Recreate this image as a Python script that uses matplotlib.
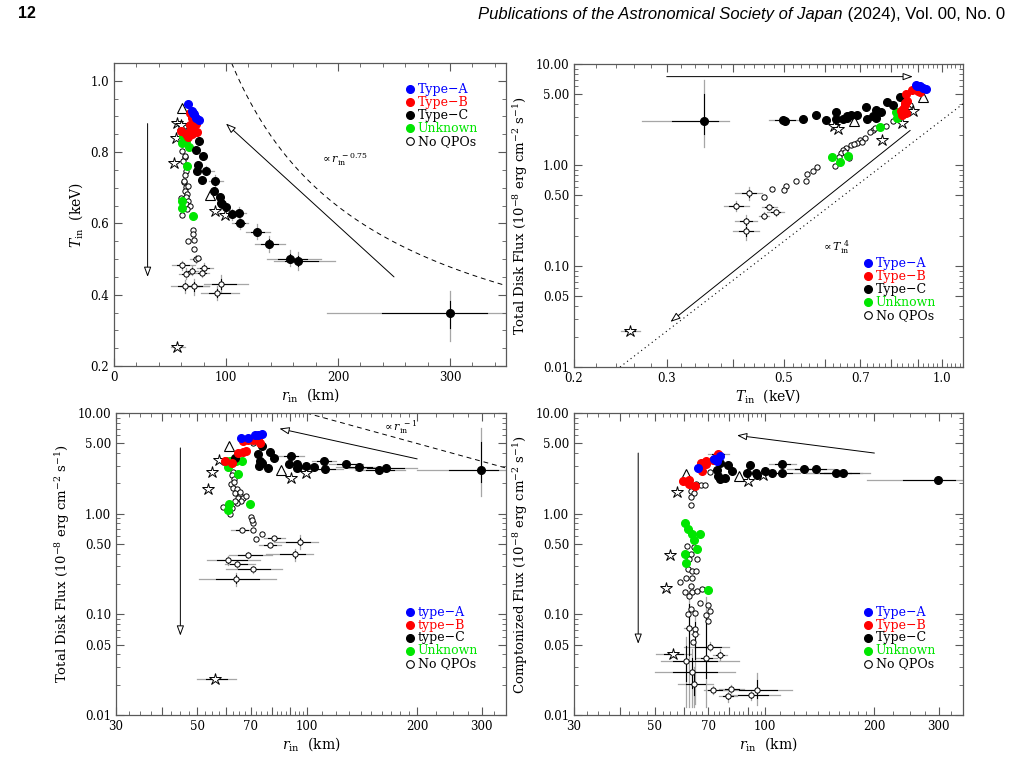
import numpy as np
import matplotlib
matplotlib.use('Agg')
from matplotlib import pyplot as plt
from matplotlib.ticker import FixedLocator, FixedFormatter, NullFormatter

plt.rcParams['font.family'] = 'DejaVu Serif'
plt.rcParams['mathtext.fontset'] = 'dejavuserif'

# ---------------- data: top-left (r_in [km], T_in [keV]) ----------------
tl_typeA = [(65.9, 0.935), (69.2, 0.914), (71.6, 0.907), (73.6, 0.897), (76.0, 0.891), (70.5, 0.910)]
tl_typeB = [(67.7, 0.910), (69.8, 0.897), (73.6, 0.879), (60.2, 0.858), (69.2, 0.851), (74.2, 0.856),
            (66.2, 0.843), (68.3, 0.860), (64.7, 0.851), (70.5, 0.866), (67.5, 0.875)]
tl_typeC = [(76.0, 0.832), (73.6, 0.806), (79.6, 0.788), (74.6, 0.765), (74.2, 0.748), (81.7, 0.748),
            (78.7, 0.722), (90.6, 0.718), (89.4, 0.691), (94.5, 0.674), (95.1, 0.657), (99.6, 0.646),
            (96.6, 0.655), (105.0, 0.627), (111.5, 0.630), (112.4, 0.601), (127.9, 0.576),
            (138.6, 0.543), (157.1, 0.501), (164.6, 0.495), (299.6, 0.350)]
tl_unknown = [(61.7, 0.846), (64.1, 0.830), (61.1, 0.825), (67.1, 0.815), (65.0, 0.761), (61.1, 0.663),
              (61.1, 0.642), (70.1, 0.621), (63.5, 0.838)]
tl_noqpo = [(62.3, 0.870), (63.2, 0.860), (70.8, 0.873), (61.1, 0.804), (63.5, 0.786), (64.1, 0.748),
            (63.2, 0.737), (62.3, 0.716), (64.7, 0.702), (63.2, 0.692), (65.6, 0.683), (64.1, 0.674),
            (66.2, 0.664), (64.7, 0.655), (67.7, 0.650), (61.1, 0.625), (70.1, 0.581), (70.1, 0.571),
            (66.2, 0.550), (71.3, 0.553), (71.6, 0.529), (72.8, 0.501), (75.1, 0.504), (61.1, 0.483),
            (64.1, 0.459), (69.2, 0.467), (80.2, 0.475), (79.0, 0.461), (63.8, 0.424), (71.3, 0.424),
            (95.7, 0.429), (92.4, 0.404), (62.0, 0.775), (63.0, 0.790), (60.0, 0.670), (62.5, 0.720),
            (66.0, 0.705), (65.0, 0.640)]
tl_stars = [(56.6, 0.881), (60.2, 0.876), (55.2, 0.840), (53.7, 0.769), (90.0, 0.635), (99.0, 0.623),
            (56.4, 0.254)]
tl_tri = [(60.8, 0.924), (85.6, 0.681)]
# (x, y, x_lo, x_hi, y_lo, y_hi)
tl_errs = [(127.9, 0.576, 118, 139, 0.555, 0.597), (138.6, 0.543, 126, 153, 0.520, 0.565),
           (157.1, 0.501, 137, 185, 0.480, 0.525), (164.6, 0.495, 143, 197, 0.470, 0.520),
           (299.6, 0.350, 190, 360, 0.270, 0.410), (112.4, 0.601, 105, 120, 0.585, 0.620),
           (111.5, 0.630, 103, 118, 0.615, 0.645), (105.0, 0.627, 98, 112, 0.610, 0.640),
           (90.6, 0.718, 85, 97, 0.700, 0.735), (81.7, 0.748, 76, 89, 0.735, 0.760),
           (61.1, 0.483, 52, 72, 0.470, 0.495), (63.8, 0.424, 51, 85, 0.405, 0.440),
           (71.3, 0.424, 60, 85, 0.400, 0.445), (95.7, 0.429, 80, 120, 0.405, 0.455),
           (92.4, 0.404, 78, 112, 0.385, 0.425), (80.2, 0.475, 74, 88, 0.460, 0.490),
           (79.0, 0.461, 72, 85, 0.450, 0.475), (64.1, 0.459, 58, 70, 0.445, 0.475),
           (69.2, 0.467, 63, 75, 0.455, 0.480), (72.8, 0.501, 68, 78, 0.490, 0.510),
           (56.4, 0.254, 51, 63, 0.250, 0.258)]

# ---------------- data: top-right (T_in [keV], disk flux) ----------------
tr_typeA = [(0.891, 6.14), (0.907, 6.00), (0.920, 5.78), (0.934, 5.65), (0.898, 6.05)]
tr_typeB = [(0.878, 5.48), (0.900, 5.36), (0.855, 5.08), (0.907, 5.24), (0.849, 4.10), (0.843, 3.57),
            (0.837, 3.39), (0.853, 3.27), (0.841, 3.12), (0.852, 3.90), (0.858, 4.30)]
tr_typeC = [(0.353, 2.70), (0.498, 2.81), (0.503, 2.70), (0.545, 2.86), (0.577, 3.12), (0.601, 2.81),
            (0.630, 3.31), (0.630, 2.86), (0.649, 2.86), (0.659, 3.03), (0.673, 3.14), (0.690, 3.12),
            (0.718, 3.74), (0.721, 2.83), (0.748, 3.52), (0.750, 2.91), (0.765, 3.31), (0.787, 4.17),
            (0.807, 3.94), (0.831, 4.71), (0.740, 3.05), (0.660, 2.95)]
tr_unknown = [(0.619, 1.21), (0.641, 1.07), (0.663, 1.23), (0.762, 2.40), (0.819, 3.31), (0.837, 3.31),
              (0.822, 2.91), (0.843, 3.39), (0.828, 3.20)]
tr_noqpo = [(0.868, 3.94), (0.862, 3.65), (0.807, 2.70), (0.782, 2.45), (0.740, 2.23), (0.729, 2.10),
            (0.713, 1.85), (0.698, 1.75), (0.688, 1.64), (0.673, 1.56), (0.658, 1.47), (0.649, 1.41),
            (0.644, 1.31), (0.653, 1.36), (0.626, 0.987), (0.665, 1.17), (0.579, 0.95), (0.570, 0.88),
            (0.554, 0.82), (0.529, 0.69), (0.551, 0.69), (0.505, 0.62), (0.500, 0.567), (0.476, 0.575),
            (0.460, 0.486), (0.430, 0.525), (0.406, 0.396), (0.469, 0.387), (0.483, 0.340),
            (0.459, 0.315), (0.425, 0.279), (0.424, 0.222), (0.705, 1.70), (0.680, 1.60),
            (0.745, 2.30), (0.636, 1.20)]
tr_stars = [(0.881, 3.44), (0.841, 2.60), (0.769, 1.75), (0.624, 2.44), (0.635, 2.26), (0.255, 0.0226)]
tr_tri = [(0.920, 4.67), (0.680, 2.74)]
tr_errs = [(0.353, 2.70, 0.269, 0.394, 1.5, 7.0), (0.498, 2.81, 0.470, 0.550, 2.60, 3.00),
           (0.430, 0.525, 0.405, 0.455, 0.45, 0.61), (0.406, 0.396, 0.385, 0.430, 0.35, 0.44),
           (0.425, 0.279, 0.405, 0.445, 0.24, 0.32), (0.424, 0.222, 0.400, 0.450, 0.18, 0.26),
           (0.483, 0.340, 0.465, 0.500, 0.31, 0.37), (0.469, 0.387, 0.455, 0.485, 0.36, 0.41),
           (0.459, 0.315, 0.450, 0.470, 0.29, 0.34), (0.255, 0.0226, 0.246, 0.267, 0.021, 0.024)]

# ---------------- data: bottom-left (r_in [km], disk flux) ----------------
bl_typeA = [(65.8, 5.66), (68.8, 5.66), (72.0, 6.10), (75.1, 6.19), (73.6, 6.00)]
bl_typeB = [(66.6, 5.24), (69.0, 5.36), (71.2, 5.40), (73.6, 5.36), (74.4, 5.05), (64.8, 4.02),
            (66.8, 4.07), (68.2, 4.17), (59.5, 3.32), (62.2, 3.20)]
bl_typeC = [(75.4, 4.75), (73.6, 3.93), (79.0, 4.11), (81.1, 3.56), (74.4, 3.32), (75.1, 3.20),
            (74.0, 2.96), (78.3, 2.85), (90.5, 3.72), (89.2, 3.12), (93.8, 3.12), (99.5, 2.96),
            (94.5, 2.90), (93.8, 2.81), (104.5, 2.90), (111.3, 3.32), (111.6, 2.79), (128.0, 3.08),
            (138.5, 2.88), (157.4, 2.70), (164.2, 2.81), (299.0, 2.70), (63.5, 3.60)]
bl_unknown = [(59.8, 3.32), (61.5, 3.32), (63.9, 3.32), (66.4, 3.32), (60.8, 2.90), (64.8, 2.45),
              (61.3, 1.24), (60.6, 1.08), (69.8, 1.24)]
bl_noqpo = [(62.6, 2.62), (62.3, 2.40), (63.0, 2.19), (62.0, 1.95), (62.6, 1.81), (64.1, 1.74),
            (63.5, 1.62), (65.4, 1.55), (64.8, 1.44), (66.8, 1.44), (66.0, 1.33), (64.1, 1.28),
            (68.2, 1.50), (58.8, 1.17), (62.4, 1.13), (61.7, 1.00), (70.0, 0.933), (71.2, 0.815),
            (66.2, 0.684), (71.3, 0.684), (75.1, 0.624), (81.0, 0.570), (72.3, 0.557), (79.3, 0.486),
            (95.5, 0.528), (69.0, 0.390), (92.4, 0.395), (60.9, 0.345), (64.3, 0.315), (70.9, 0.281),
            (63.7, 0.224), (71.0, 5.00), (64.0, 3.75), (63.0, 2.05), (65.5, 1.65), (63.5, 1.35),
            (70.5, 0.870)]
bl_stars = [(57.5, 3.40), (55.0, 2.61), (53.6, 1.74), (90.2, 2.25), (99.2, 2.55), (56.1, 0.0229)]
bl_tri = [(61.0, 4.68), (85.0, 2.70)]
bl_errs = [(299.0, 2.70, 200, 360, 1.5, 7.1), (164.2, 2.81, 130, 200, 2.65, 2.95),
           (157.4, 2.70, 135, 185, 2.55, 2.85), (138.5, 2.88, 120, 160, 2.75, 3.00),
           (128.0, 3.08, 115, 142, 2.95, 3.20), (111.3, 3.32, 103, 120, 3.15, 3.50),
           (111.6, 2.79, 100, 125, 2.65, 2.95), (90.5, 3.72, 83, 98, 3.55, 3.90),
           (60.9, 0.345, 53.3, 74.4, 0.31, 0.38), (63.7, 0.224, 50.6, 82.4, 0.19, 0.26),
           (92.4, 0.395, 77.2, 104, 0.34, 0.45), (95.5, 0.528, 81, 107, 0.45, 0.62),
           (70.9, 0.281, 59.9, 85.6, 0.26, 0.30), (64.3, 0.315, 59.5, 72, 0.29, 0.34),
           (69.0, 0.390, 61, 80, 0.36, 0.42), (81.0, 0.570, 76, 87, 0.55, 0.59),
           (79.3, 0.486, 74, 85, 0.47, 0.50), (66.2, 0.684, 62, 71, 0.66, 0.71),
           (56.1, 0.0229, 50.1, 63.7, 0.0220, 0.0238)]

# ---------------- data: bottom-right (r_in [km], comptonized flux) ----------------
br_typeA = [(72.8, 3.53), (75.2, 3.72), (73.8, 3.37), (65.8, 2.81)]
br_typeB = [(74.3, 3.95), (73.8, 3.72), (72.2, 3.45), (69.2, 3.32), (67.0, 3.20), (68.9, 3.08),
            (66.2, 2.85), (67.4, 2.65), (59.6, 2.11), (62.2, 2.18), (62.2, 1.95), (64.4, 1.88)]
br_typeC = [(75.2, 3.20), (79.2, 3.03), (81.4, 2.65), (73.8, 2.69), (74.3, 2.36), (75.2, 2.22),
            (78.0, 2.27), (90.9, 3.03), (89.3, 2.55), (94.6, 2.55), (95.0, 2.41), (100.0, 2.65),
            (104.5, 2.55), (111.4, 3.12), (111.8, 2.51), (128.0, 2.75), (138.0, 2.75), (157.0, 2.55),
            (164.0, 2.55), (299.0, 2.14)]
br_unknown = [(60.6, 0.802), (61.5, 0.700), (63.4, 0.624), (66.6, 0.624), (64.1, 0.545), (65.1, 0.443),
              (60.6, 0.402), (60.8, 0.322), (70.0, 0.174)]
br_noqpo = [(64.9, 1.95), (66.9, 1.91), (68.6, 1.93), (63.0, 1.68), (63.9, 1.61), (62.8, 1.47),
            (63.0, 1.21), (71.0, 2.59), (61.4, 0.479), (64.1, 0.468), (63.0, 0.396), (65.3, 0.358),
            (62.2, 0.354), (61.5, 0.281), (63.4, 0.268), (64.9, 0.268), (60.9, 0.228), (63.4, 0.228),
            (58.6, 0.210), (63.0, 0.192), (60.6, 0.168), (63.4, 0.165), (65.3, 0.172), (67.2, 0.178),
            (62.0, 0.153), (66.4, 0.131), (63.0, 0.113), (64.6, 0.104), (61.5, 0.101), (70.1, 0.123),
            (71.0, 0.107), (69.2, 0.098), (70.0, 0.0865), (62.0, 0.0726), (64.6, 0.0717),
            (64.6, 0.0638), (63.6, 0.0537), (71.0, 0.0479), (75.2, 0.0395), (61.0, 0.034),
            (69.0, 0.0367), (63.4, 0.0267), (64.0, 0.0204), (72.2, 0.0178), (81.0, 0.0182),
            (91.9, 0.0157), (95.0, 0.0178), (79.2, 0.0153)]
br_stars = [(57.6, 1.65), (55.0, 0.390), (53.6, 0.181), (56.0, 0.0404), (90.2, 2.09), (99.2, 2.40)]
br_tri = [(61.0, 2.45), (85.0, 2.36)]
br_errs = [(299.0, 2.14, 191, 360, 2.05, 2.23), (164.0, 2.55, 130, 195, 2.45, 2.65),
           (157.0, 2.55, 130, 185, 2.45, 2.65), (138.0, 2.75, 120, 155, 2.65, 2.85),
           (128.0, 2.75, 115, 140, 2.65, 2.85), (111.4, 3.12, 103, 122, 3.00, 3.25),
           (111.8, 2.51, 95, 125, 2.40, 2.60), (74.3, 3.95, 70, 80, 3.80, 4.10),
           (61.0, 0.034, 52.1, 85, 0.012, 0.06), (63.4, 0.0267, 50, 83, 0.012, 0.045),
           (75.2, 0.0395, 72, 79, 0.035, 0.045), (71.0, 0.0479, 60, 80, 0.043, 0.053),
           (64.0, 0.0204, 58, 72, 0.012, 0.030), (72.2, 0.0178, 68, 80, 0.016, 0.0195),
           (91.9, 0.0157, 78, 110, 0.014, 0.0175), (95.0, 0.0178, 77, 119, 0.0125, 0.026),
           (81.0, 0.0182, 75, 88, 0.0165, 0.020), (79.2, 0.0153, 75, 84, 0.0135, 0.017),
           (69.0, 0.0367, 65, 74, 0.012, 0.15), (64.6, 0.0638, 63, 66, 0.013, 0.10),
           (62.0, 0.0726, 60, 64, 0.012, 0.17), (56.0, 0.0404, 50.3, 62.8, 0.038, 0.043)]

legend_upper = ['Type\u2212A', 'Type\u2212B', 'Type\u2212C', 'Unknown', 'No QPOs']
legend_lower = ['type\u2212A', 'type\u2212B', 'type\u2212C', 'Unknown', 'No QPOs']

BLUE, RED, GREEN = '#0000ff', '#ff0000', '#00e600'


def xy(pts):
    return [p[0] for p in pts], [p[1] for p in pts]


def draw_errs(ax, errs):
    for x, y, xlo, xhi, ylo, yhi in errs:
        ax.plot([xlo, xhi], [y, y], color='0.65', lw=0.9, zorder=1)
        ax.plot([x, x], [ylo, yhi], color='0.65', lw=0.9, zorder=1)
        ax.plot([x - 0.55 * (x - xlo), x + 0.55 * (xhi - x)], [y, y], color='k', lw=0.8, zorder=1.5)
        ax.plot([x, x], [y - 0.55 * (y - ylo), y + 0.55 * (yhi - y)], color='k', lw=0.8, zorder=1.5)


def draw_panel(ax, a, b, c, unk, noq, stars, tri, errs):
    draw_errs(ax, errs)
    ax.plot(*xy(noq), ls='none', marker='o', ms=3.8, mfc='white', mec='k', mew=0.7, zorder=3)
    ax.plot(*xy(stars), ls='none', marker='*', ms=9, mfc='white', mec='k', mew=0.7, zorder=3)
    ax.plot(*xy(tri), ls='none', marker='^', ms=7, mfc='white', mec='k', mew=0.8, zorder=3)
    ax.plot(*xy(unk), ls='none', marker='o', ms=5.5, color=GREEN, zorder=4)
    ax.plot(*xy(c), ls='none', marker='o', ms=5.5, color='k', zorder=4)
    ax.plot(*xy(b), ls='none', marker='o', ms=5.5, color=RED, zorder=5)
    ax.plot(*xy(a), ls='none', marker='o', ms=5.5, color=BLUE, zorder=6)


def draw_legend(ax, labels, x0, y0, dy=0.043):
    colors = [BLUE, RED, 'k', GREEN, 'k']
    for i, (lab, col) in enumerate(zip(labels, colors)):
        y = y0 - i * dy
        if i < 4:
            ax.plot([x0], [y], marker='o', ms=5.5, color=col, transform=ax.transAxes, clip_on=False)
        else:
            ax.plot([x0], [y], marker='o', ms=5.5, mfc='white', mec='k', mew=0.8,
                    transform=ax.transAxes, clip_on=False)
        ax.text(x0 + 0.02, y, lab, color=col, fontsize=9, va='center', ha='left', transform=ax.transAxes)


def arrow(ax, tail, head):
    ax.annotate('', xy=head, xytext=tail,
                arrowprops=dict(arrowstyle='-|>,head_length=0.6,head_width=0.22', fc='white', ec='k',
                                lw=0.7, shrinkA=0, shrinkB=0))


def style(ax):
    for s in ax.spines.values():
        s.set_color('0.35')
        s.set_linewidth(0.9)
    ax.tick_params(which='both', direction='in', top=True, right=True, color='0.35', labelsize=8.5)
    ax.tick_params(which='major', length=6, width=0.8)
    ax.tick_params(which='minor', length=3, width=0.6)


def log_flux_axis(ax):
    ax.set_yscale('log')
    ax.set_ylim(0.01, 10)
    yt = [0.01, 0.05, 0.1, 0.5, 1, 5, 10]
    ax.yaxis.set_major_locator(FixedLocator(yt))
    ax.yaxis.set_major_formatter(FixedFormatter(['0.01', '0.05', '0.10', '0.50', '1.00', '5.00', '10.00']))
    minors = [m * 10.0 ** e for e in (-2, -1, 0) for m in (2, 3, 4, 6, 7, 8, 9)]
    ax.yaxis.set_minor_locator(FixedLocator(minors))
    ax.yaxis.set_minor_formatter(NullFormatter())


def log_r_axis(ax):
    ax.set_xscale('log')
    ax.set_xlim(30, 350)
    xt = [30, 40, 50, 60, 70, 80, 90, 100, 200, 300]
    ax.xaxis.set_major_locator(FixedLocator(xt))
    ax.xaxis.set_major_formatter(FixedFormatter(['30', '', '50', '', '70', '', '', '100', '200', '300']))
    minors = list(np.arange(32.5, 100, 2.5)) + list(np.arange(110, 200, 10)) + list(np.arange(225, 350, 25))
    ax.xaxis.set_minor_locator(FixedLocator(minors))
    ax.xaxis.set_minor_formatter(NullFormatter())
    ax.set_xlabel(r'$r_{\rm in}$  (km)', fontsize=10, labelpad=2)


fig = plt.figure(figsize=(10.21, 7.58), dpi=100)
W, H = 1021.0, 758.0


def add_axes(l, r, t, b):
    return fig.add_axes([l / W, 1 - b / H, (r - l) / W, (b - t) / H])


ax1 = add_axes(114, 506, 63, 366)
ax2 = add_axes(574, 963, 64, 367)
ax3 = add_axes(116, 506, 413, 715)
ax4 = add_axes(574, 963, 413, 715)

flux_label = r'(10$^{-8}$ erg cm$^{-2}$ s$^{-1}$)'

# ---- top-left ----
draw_panel(ax1, tl_typeA, tl_typeB, tl_typeC, tl_unknown, tl_noqpo, tl_stars, tl_tri, tl_errs)
ax1.set_xlim(0, 350)
ax1.set_ylim(0.2, 1.05)
ax1.xaxis.set_major_locator(FixedLocator([0, 100, 200, 300]))
ax1.xaxis.set_minor_locator(FixedLocator(np.arange(0, 351, 20)))
ax1.yaxis.set_major_locator(FixedLocator([0.2, 0.4, 0.6, 0.8, 1.0]))
ax1.yaxis.set_major_formatter(FixedFormatter(['0.2', '0.4', '0.6', '0.8', '1.0']))
ax1.yaxis.set_minor_locator(FixedLocator(np.arange(0.2, 1.06, 0.05)))
ax1.set_xlabel(r'$r_{\rm in}$  (km)', fontsize=10, labelpad=2)
ax1.set_ylabel(r'$T_{\rm in}$  (keV)', fontsize=10, labelpad=4)
rr = np.linspace(105, 350, 100)
ax1.plot(rr, 1.05 * (rr / 105) ** -0.75, ls=(0, (5, 4)), color='k', lw=0.7)
ax1.text(184, 0.78, r'$\propto r_{\rm in}^{\ -0.75}$', fontsize=8, va='center')
arrow(ax1, (30, 0.88), (30, 0.45))
arrow(ax1, (250, 0.45), (100, 0.88))
draw_legend(ax1, legend_upper, 0.755, 0.914)
style(ax1)

# ---- top-right ----
draw_panel(ax2, tr_typeA, tr_typeB, tr_typeC, tr_unknown, tr_noqpo, tr_stars, tr_tri, tr_errs)
ax2.set_xscale('log')
ax2.set_xlim(0.2, 1.096)
ax2.xaxis.set_major_locator(FixedLocator([0.2, 0.3, 0.4, 0.5, 0.6, 0.7, 0.8, 0.9, 1.0]))
ax2.xaxis.set_major_formatter(FixedFormatter(['0.2', '0.3', '', '0.5', '', '0.7', '', '', '1.0']))
ax2.xaxis.set_minor_locator(FixedLocator(np.arange(0.22, 1.096, 0.02)))
ax2.xaxis.set_minor_formatter(NullFormatter())
log_flux_axis(ax2)
ax2.set_xlabel(r'$T_{\rm in}$  (keV)', fontsize=10, labelpad=2)
ax2.set_ylabel('Total Disk Flux ' + flux_label, fontsize=9.5, labelpad=4)
tt = np.linspace(0.2446, 1.096, 100)
ax2.plot(tt, 0.01 * (tt / 0.2446) ** 4, ls=(0, (1, 3)), color='k', lw=0.8)
ax2.text(0.59, 0.155, r'$\propto T_{\rm in}^{\ 4}$', fontsize=8, va='center')
arrow(ax2, (0.30, 7.5), (0.88, 7.5))
arrow(ax2, (0.87, 2.2), (0.305, 0.028))
draw_legend(ax2, legend_upper, 0.756, 0.343)
style(ax2)

# ---- bottom-left ----
draw_panel(ax3, bl_typeA, bl_typeB, bl_typeC, bl_unknown, bl_noqpo, bl_stars, bl_tri, bl_errs)
log_r_axis(ax3)
log_flux_axis(ax3)
ax3.set_ylabel('Total Disk Flux ' + flux_label, fontsize=9.5, labelpad=4)
rr = np.linspace(99.5, 350, 100)
ax3.plot(rr, 10 * (rr / 99.5) ** -1, ls=(0, (5, 4)), color='k', lw=0.7)
ax3.text(160, 7.2, r'$\propto r_{\rm in}^{\ -1}$', fontsize=8, va='center')
arrow(ax3, (45, 4.5), (45, 0.0615))
arrow(ax3, (200, 3.5), (84, 7.0))
draw_legend(ax3, legend_lower, 0.754, 0.341)
style(ax3)

# ---- bottom-right ----
draw_panel(ax4, br_typeA, br_typeB, br_typeC, br_unknown, br_noqpo, br_stars, br_tri, br_errs)
log_r_axis(ax4)
log_flux_axis(ax4)
ax4.set_ylabel('Comptonized Flux ' + flux_label, fontsize=9.5, labelpad=4)
arrow(ax4, (45, 4.0), (45, 0.051))
arrow(ax4, (200, 4.0), (84, 6.0))
draw_legend(ax4, legend_upper, 0.756, 0.341)
style(ax4)

# ---- page header ----
fig.text(18 / W, 1 - 14 / H, '12', fontsize=11.5, fontweight='bold', family='Liberation Sans', va='center')
t_roman = fig.text(1005 / W, 1 - 14 / H, ' (2024), Vol. 00, No. 0', fontsize=12, family='Liberation Sans',
                   va='center', ha='right')
fig.canvas.draw()
bb = t_roman.get_window_extent()
fig.text(bb.x0 / W, 1 - 14 / H, 'Publications of the Astronomical Society of Japan', fontsize=12,
         family='Liberation Sans', style='italic', va='center', ha='right')

fig.savefig('out.png', dpi=100)
